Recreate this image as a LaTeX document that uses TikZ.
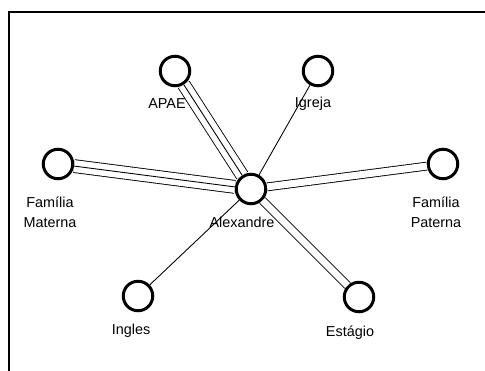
\documentclass[tikz,border=0pt]{standalone}
\usepackage{fontspec}
\setmainfont{Liberation Sans}

\begin{document}
\begin{tikzpicture}[
	ator/.style={circle, draw, line width=1.7pt, minimum size=0.59cm, inner sep=0pt},
	rotulo/.style={font=\fontsize{8.2}{11.4}\selectfont, align=center, inner sep=0pt},
	fino/.style={line width=0.5pt},
	duplo/.style={fino, double, double distance=0.14cm},
	triplo/.style={fino, double, double distance=0.24cm}]
			\useasboundingbox (0,0) rectangle (9.7,-7.42);
			\draw[line width=0.75pt] (0.18,-7.42) -- (0.18,-0.24) -- (9.7,-0.24);
			
			\node[ator] (alex) at (5.02,-3.78) {};
			\node[ator] (apae) at (3.5,-1.42) {};
			\node[ator] (igreja) at (6.36,-1.42) {};
			\node[ator] (materna) at (1.16,-3.28) {};
			\node[ator] (paterna) at (8.86,-3.28) {};
			\node[ator] (ingles) at (2.76,-5.92) {};
			\node[ator] (estagio) at (7.18,-5.94) {};
			
			\node[rotulo] (lalex) at (4.84,-4.44) {Alexandre};
			\node[rotulo] (lapae) at (3.34,-2.08) {APAE};
			\node[rotulo] (ligreja) at (6.26,-2.08) {Igreja};
			\node[rotulo] (lmaterna) at (1.0,-4.24) {Família\\Materna};
			\node[rotulo] (lpaterna) at (8.72,-4.24) {Família\\Paterna};
			\node[rotulo] (lingles) at (2.62,-6.62) {Ingles};
			\node[rotulo] (lestagio) at (7.0,-6.66) {Estágio};
			
			\draw[triplo] (alex) -- (apae);
			\draw[fino] (alex) -- (apae);
			\draw[triplo] (alex) -- (materna);
			\draw[fino] (alex) -- (materna);
			\draw[duplo] (alex) -- (paterna);
			\draw[duplo] (alex) -- (estagio);
			\draw[fino] (alex) -- (igreja);
			\draw[fino] (alex) -- (ingles);
			
\end{tikzpicture}
\end{document}
